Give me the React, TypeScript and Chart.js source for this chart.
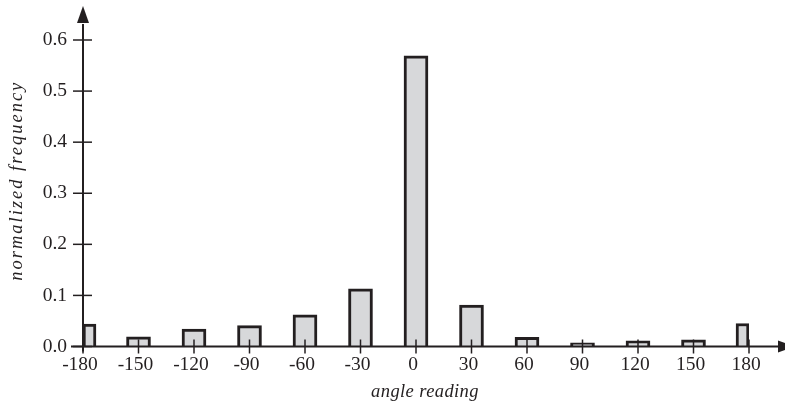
import React, { useEffect, useRef } from "react";
import { Chart, registerables } from "chart.js";

Chart.register(...registerables);

// ---- data ----
const angles = [-150, -120, -90, -60, -30, 0, 30, 60, 90, 120, 150];
const frequencies = [0.019, 0.034, 0.041, 0.062, 0.113, 0.569, 0.081, 0.018, 0.007, 0.011, 0.013];
// half-width bins at the two ends of the range
const edgeAngles = [-180, 180];
const edgeFrequencies = [0.044, 0.045];
const edgeHalfBin = 3.5; // degrees: centre of a half bin sits this far inside the end
const xMin = -180;
const xMax = 180;
const xStep = 30;
const yMin = 0;
const yMax = 0.6;
const yStep = 0.1;
const xTitle = "angle reading";
const yTitle = "normalized frequency";

const INK = "#231f20";
const FILL = "#d7d8da";
const FONT = "'Liberation Serif', 'Times New Roman', serif";

const decorPlugin = {
  id: "decor",
  afterDatasetsDraw(chart: any) {
    const { ctx, chartArea, scales } = chart;
    const xs = scales.x;
    const ys = scales.y;
    const x0 = xs.getPixelForValue(xMin);
    const y0 = ys.getPixelForValue(0);
    const line = (a: number, b: number, c: number, d: number) => {
      ctx.beginPath();
      ctx.moveTo(a, b);
      ctx.lineTo(c, d);
      ctx.stroke();
    };
    ctx.save();
    ctx.strokeStyle = INK;
    ctx.fillStyle = INK;
    ctx.lineCap = "butt";
    // tick marks crossing the axes
    ctx.lineWidth = 1.5;
    ys.ticks.forEach((t: any) => {
      const y = ys.getPixelForValue(t.value);
      line(x0 - 10, y, x0 + 9, y);
    });
    xs.ticks.forEach((t: any) => {
      const x = xs.getPixelForValue(t.value);
      line(x, y0 - 7, x, y0 + 7);
    });
    // axes lines
    ctx.lineWidth = 2;
    const xEnd = chartArea.right + 29;
    line(x0 - 12, y0, xEnd + 1, y0);
    const yEnd = chartArea.top - 17;
    line(x0, y0 + 5, x0, yEnd + 1);
    // arrow heads
    ctx.beginPath();
    ctx.moveTo(x0, chartArea.top - 34);
    ctx.lineTo(x0 - 6, yEnd);
    ctx.lineTo(x0 + 6, yEnd);
    ctx.closePath();
    ctx.fill();
    ctx.beginPath();
    ctx.moveTo(xEnd + 17, y0);
    ctx.lineTo(xEnd, y0 - 6);
    ctx.lineTo(xEnd, y0 + 6);
    ctx.closePath();
    ctx.fill();
    // axis titles
    ctx.font = `italic 18.5px ${FONT}`;
    ctx.textAlign = "center";
    ctx.textBaseline = "alphabetic";
    try { (ctx as any).letterSpacing = "0.4px"; } catch (e) {}
    ctx.fillText(xTitle, (x0 - 12 + xEnd + 17) / 2 - 8, 397);
    ctx.save();
    try { (ctx as any).letterSpacing = "2px"; } catch (e) {}
    ctx.translate(21.5, (chartArea.top - 34 + y0 + 5) / 2 + 2);
    ctx.rotate(-Math.PI / 2);
    ctx.fillText(yTitle, 0, 0);
    ctx.restore();
    try { (ctx as any).letterSpacing = "0px"; } catch (e) {}
    ctx.restore();
  },
};

export default function App() {
  const ref = useRef<HTMLCanvasElement>(null);
  useEffect(() => {
    if (!ref.current) return;
    const chart = new Chart(ref.current, {
      type: "bar",
      data: {
        datasets: [
          {
            data: angles.map((a, i) => ({ x: a, y: frequencies[i] })),
            backgroundColor: FILL,
            borderColor: INK,
            borderWidth: 3,
            barThickness: 24,
            grouped: false,
          },
          {
            data: edgeAngles.map((a, i) => ({
              x: a - Math.sign(a) * edgeHalfBin,
              y: edgeFrequencies[i],
            })),
            backgroundColor: FILL,
            borderColor: INK,
            borderWidth: 3,
            barThickness: 13,
            grouped: false,
          },
        ],
      },
      options: {
        responsive: false,
        animation: false,
        events: [],
        layout: { padding: { top: 40, right: 36, bottom: 0, left: 0 } },
        plugins: { legend: { display: false }, tooltip: { enabled: false }, title: { display: false } },
        scales: {
          x: {
            type: "linear",
            min: xMin,
            max: xMax,
            offset: false,
            grid: { display: false, drawTicks: false },
            border: { display: false },
            ticks: {
              stepSize: xStep,
              padding: 7,
              labelOffset: -3,
              maxRotation: 0,
              autoSkip: false,
              color: INK,
              font: { family: FONT, size: 19.5 },
              callback: (v: any) => String(v),
            },
            afterFit: (s: any) => {
              s.height = 60.5;
            },
          },
          y: {
            type: "linear",
            min: yMin,
            max: yMax,
            grid: { display: false, drawTicks: false },
            border: { display: false },
            ticks: {
              stepSize: yStep,
              padding: 16,
              labelOffset: 0,
              color: INK,
              font: { family: FONT, size: 19.5 },
              callback: (v: any) => Number(v).toFixed(1),
            },
            afterFit: (s: any) => {
              s.width = 83;
            },
          },
        },
      },
      plugins: [decorPlugin],
    });
    return () => chart.destroy();
  }, []);
  return (
    <div style={{ position: "absolute", left: 0, top: 0, width: 785, height: 407, background: "#fff" }}>
      <canvas ref={ref} width={785} height={407} style={{ display: "block" }} />
    </div>
  );
}
